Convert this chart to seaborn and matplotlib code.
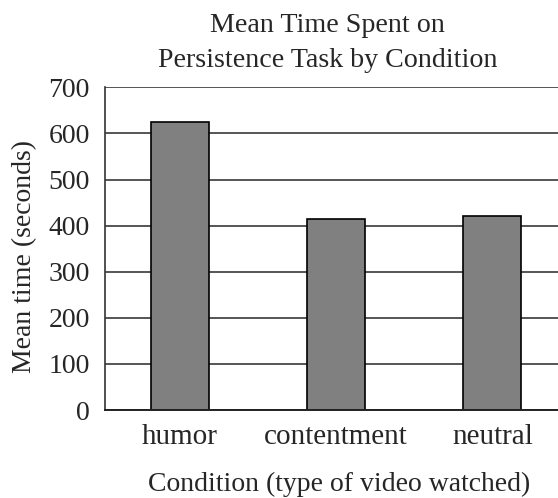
import matplotlib
matplotlib.use("Agg")
import matplotlib.pyplot as plt
import seaborn as sns
import pandas as pd

conditions = ["humor", "contentment", "neutral"]
mean_times = [625, 414, 420]

data = pd.DataFrame({"Condition": conditions, "Mean": mean_times})

sns.set_style("white")
plt.rcParams['font.family'] = ['Liberation Serif', 'DejaVu Serif']

fig = plt.figure(figsize=(5.58, 4.98), dpi=100)
ax = fig.add_axes([0.188, 0.1767, 0.812, 0.648])

sns.barplot(x="Condition", y="Mean", data=data, color="#808080",
            edgecolor="black", linewidth=1.2, width=0.371, saturation=1, ax=ax)

ax.set_ylim(0, 700)
ax.set_xlim(-0.478, 2.42)
ax.set_yticks(range(0, 701, 100))
ax.yaxis.grid(True, color="#555555", linewidth=1.4)
ax.set_axisbelow(True)
for s in ["top", "right"]:
    ax.spines[s].set_visible(False)
ax.spines["left"].set_color("#333333")
ax.spines["bottom"].set_color("#222222")
ax.spines["left"].set_linewidth(1.2)
ax.spines["bottom"].set_linewidth(1.4)
ax.tick_params(axis="y", length=4.5, width=1.2, color="#333333", labelsize=20, pad=6.5)
ax.tick_params(axis="x", length=0, labelsize=21, pad=10)

ax.set_ylabel("Mean time (seconds)", fontsize=20, va="center")
ax.yaxis.set_label_coords(-0.178, 0.476)
ax.set_xlabel("Condition (type of video watched)", fontsize=20, va="center")
ax.xaxis.set_label_coords(0.516, -0.232)
fig.text(0.587, 0.914, "Mean Time Spent on\nPersistence Task by Condition",
         ha="center", va="center", fontsize=20.2, linespacing=1.5)

fig.savefig("out.png", dpi=100)
